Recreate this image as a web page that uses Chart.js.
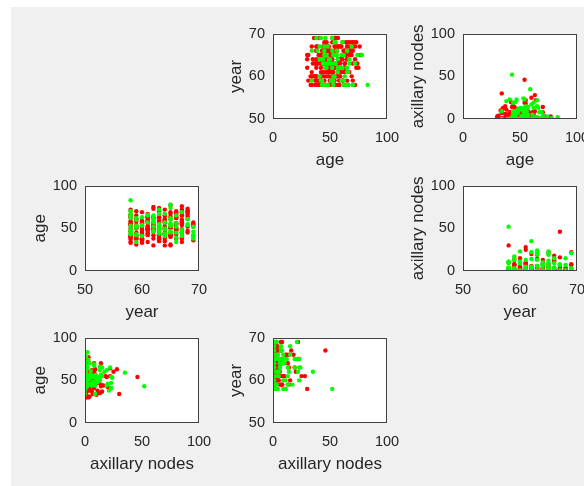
<!DOCTYPE html>
<html>
<head>
<meta charset="utf-8">
<title>Haberman scatter matrix</title>
<script src="https://cdn.jsdelivr.net/npm/chart.js@4.4.1/dist/chart.umd.min.js"></script>
<style>
  html, body { margin: 0; padding: 0; background: #fff; overflow: hidden; width: 584px; height: 486px; }
  #fig { position: absolute; left: 11px; top: 7px; width: 573px; height: 479px; background: #f0f0f0; }
  canvas { position: absolute; }
</style>
</head>
<body>
<div id="fig"></div>
<script>
// patient records: age at operation, operation year (19xx), positive axillary nodes, survival status
const age = [
  30,30,30,31,31,33,33,34,34,34, 34,34,34,34,35,35,36,36,37,37,
  37,37,37,37,38,38,38,38,38,38, 38,38,38,38,39,39,39,39,39,39,
  40,40,40,41,41,41,41,41,41,41, 41,41,41,42,42,42,42,42,42,42,
  42,42,43,43,43,43,43,43,43,43, 43,43,43,44,44,44,44,44,44,44,
  45,45,45,45,45,45,45,45,45,46, 46,46,46,46,46,46,47,47,47,47,
  47,47,47,47,47,47,47,48,48,48, 48,48,48,48,49,49,49,49,49,49,
  49,49,49,49,50,50,50,50,50,50, 50,50,50,50,50,50,51,51,51,51,
  51,51,52,52,52,52,52,52,52,52, 52,52,52,52,52,52,53,53,53,53,
  53,53,53,53,53,53,53,54,54,54, 54,54,54,54,54,54,54,54,54,54,
  55,55,55,55,55,55,55,55,55,55, 56,56,56,56,56,56,56,57,57,57,
  57,57,57,57,57,57,57,57,58,58, 58,58,58,58,58,59,59,59,59,59,
  59,59,59,60,60,60,60,60,60,61, 61,61,61,61,61,61,61,61,62,62,
  62,62,62,62,62,63,63,63,63,63, 63,63,63,64,64,64,64,64,65,65,
  65,65,65,65,65,65,65,65,66,66, 66,66,66,67,67,67,67,67,67,68,
  68,69,69,69,69,70,70,70,70,70, 70,70,71,72,72,72,72,73,73,74,
  74,75,76,77,78,83
];
const year = [
  64,62,65,59,65,58,60,59,66,58, 60,61,67,60,64,63,60,69,60,63,
  58,59,60,63,69,59,60,60,62,64, 66,66,60,67,66,63,67,58,59,63,
  58,58,65,60,64,67,58,59,59,64, 69,65,65,69,59,58,60,59,61,62,
  65,63,58,59,64,64,63,64,64,60, 63,65,66,64,58,63,61,63,61,67,
  65,66,67,60,67,59,64,68,67,58, 69,62,65,62,58,63,63,62,65,61,
  63,66,67,58,60,68,66,58,58,67, 61,62,64,66,63,64,61,62,66,60,
  62,63,61,67,63,64,59,61,61,63, 58,59,61,64,65,66,59,59,64,59,
  65,66,69,59,62,66,61,63,69,60, 60,62,62,64,65,68,58,65,59,60,
  63,65,58,60,60,61,63,60,65,65, 68,59,60,66,67,62,69,63,58,62,
  63,68,58,58,58,66,66,69,69,67, 65,66,60,66,66,67,60,61,62,64,
  64,69,61,62,63,64,64,67,59,60, 61,67,58,58,61,62,60,63,64,64,
  64,64,67,59,65,61,67,61,64,62, 65,68,59,59,64,65,68,59,59,58,
  65,62,66,66,58,60,61,62,63,63, 66,61,61,58,65,66,61,68,58,61,
  62,66,58,64,67,59,64,67,58,61, 58,58,68,64,63,66,66,61,65,67,
  68,67,60,65,66,58,58,66,67,68, 59,63,68,63,58,64,67,62,68,65,
  63,62,67,65,65,58
];
const nodes = [
  1,3,0,2,4,10,0,0,9,30, 1,10,7,0,13,0,1,0,0,0,
  0,6,15,0,21,2,0,0,3,1, 0,11,1,5,0,0,0,0,2,4,
  2,0,0,23,0,0,0,8,0,0, 8,0,0,1,0,0,1,2,4,20,
  0,1,52,2,0,0,14,2,3,0, 2,0,4,6,9,19,0,1,0,16,
  6,0,1,0,0,14,0,0,1,2, 3,5,20,0,3,0,23,0,0,0,
  6,0,0,3,4,4,12,11,11,7, 8,2,0,0,0,10,1,0,0,1,
  1,3,0,1,13,0,0,6,0,1, 1,2,0,0,4,1,13,3,7,1,
  0,1,3,2,3,4,0,4,0,4, 5,0,1,0,0,0,4,1,3,9,
  24,12,1,1,2,1,0,11,23,5, 7,7,3,0,46,0,7,19,1,0,
  6,15,1,0,1,18,0,3,22,1, 9,3,0,2,1,0,0,5,14,1,
  9,0,0,0,0,0,0,0,0,3, 1,0,0,3,2,35,0,0,1,4,
  0,7,3,17,0,1,2,25,0,5, 0,1,0,0,0,8,0,0,13,0,
  19,6,0,0,0,1,0,0,0,0, 0,9,28,0,22,0,0,0,0,2,
  22,15,0,0,0,2,0,1,0,13, 0,1,0,8,1,0,0,0,0,0,
  0,8,0,0,0,0,4,14,0,0, 8,0,2,0,0,0,3,0,0,3,
  0,1,0,3,1,2
];
const status = [
  1,1,1,1,1,1,1,2,2,1, 1,1,1,1,1,1,1,1,1,1,
  1,1,1,1,2,1,1,1,1,1, 1,1,1,1,2,1,1,1,1,1,
  1,1,1,2,2,2,1,1,1,1, 1,1,1,2,2,1,1,1,1,1,
  1,1,2,2,2,2,1,1,1,1, 1,1,1,2,2,2,1,1,1,1,
  2,2,2,1,1,1,1,1,1,2, 2,2,2,1,1,1,2,2,2,1,
  1,1,1,1,1,1,1,2,2,2, 1,1,1,1,2,2,1,1,1,1,
  1,1,1,1,2,2,1,1,1,1, 1,1,1,1,1,1,2,2,1,1,
  1,1,2,2,2,2,1,1,1,1, 1,1,1,1,1,1,2,2,2,2,
  2,2,1,1,1,1,1,2,2,2, 2,1,1,1,1,1,1,1,1,1,
  2,2,1,1,1,1,1,1,1,1, 2,2,1,1,1,1,1,2,2,2,
  1,1,1,1,1,1,1,1,1,1, 1,1,1,1,1,2,1,1,1,1,
  1,1,1,2,2,1,1,1,1,2, 2,2,1,1,1,1,1,1,2,2,
  2,1,1,1,1,2,1,1,1,1, 1,1,1,1,1,1,1,1,2,2,
  2,2,1,1,1,1,1,1,2,2, 1,1,1,2,2,1,1,1,1,1,
  1,2,1,1,1,2,2,1,1,1, 1,1,1,2,1,1,1,1,1,2,
  1,1,1,1,2,2
];

// axis ticks for each variable
const ageTicks = [0, 50, 100];
const yearTicks = [50, 60, 70];
const nodeTicks = [0, 50, 100];

const variables = [
  { values: age, title: 'age', ticks: ageTicks },
  { values: year, title: 'year', ticks: yearTicks },
  { values: nodes, title: 'axillary nodes', ticks: nodeTicks }
];

const colLeft = [85, 273, 463];
const rowTop = [34, 186, 338];
const boxW = 114, boxH = 85;
const padTop = 12, padRight = 24, xAxisH = 54;
const textColor = '#262626';
const fontFamily = "'Liberation Sans', Arial, sans-serif";

// white plot area and a closed box around it
const boxPlugin = {
  id: 'box',
  beforeDatasetsDraw(chart) {
    const a = chart.chartArea, ctx = chart.ctx;
    ctx.save();
    ctx.fillStyle = '#ffffff';
    ctx.fillRect(a.left, a.top, a.right - a.left, a.bottom - a.top);
    ctx.restore();
  },
  afterDatasetsDraw(chart) {
    const a = chart.chartArea, ctx = chart.ctx;
    ctx.save();
    ctx.strokeStyle = '#404040';
    ctx.lineWidth = 1;
    ctx.strokeRect(Math.round(a.left) + 0.5, Math.round(a.top) + 0.5,
                   Math.round(a.right - a.left) - 1, Math.round(a.bottom - a.top) - 1);
    ctx.restore();
  }
};

function axisOpts(v, isY, yWidth) {
  return {
    type: 'linear',
    min: v.ticks[0],
    max: v.ticks[v.ticks.length - 1],
    grid: { display: false, drawTicks: false },
    border: { display: false },
    ticks: {
      stepSize: v.ticks[1] - v.ticks[0],
      color: textColor,
      padding: isY ? 8 : 10,
      maxRotation: 0,
      font: { family: fontFamily, size: 14.5 }
    },
    title: {
      display: true,
      text: v.title,
      color: textColor,
      padding: isY ? { top: 3, bottom: 0 } : { top: 0, bottom: 2 },
      font: { family: fontFamily, size: 17 }
    },
    afterFit(scale) {
      if (isY) scale.width = yWidth;
      else scale.height = xAxisH;
    }
  };
}

function buildChart(canvas, xv, yv, yWidth) {
  const died = [], survived = [];
  for (let i = 0; i < status.length; i++) {
    const p = { x: xv.values[i], y: yv.values[i] };
    if (status[i] === 2) died.push(p); else survived.push(p);
  }
  return new Chart(canvas, {
    type: 'scatter',
    data: {
      datasets: [
        { data: survived, backgroundColor: '#ff0000', borderWidth: 0, pointRadius: 2.2, order: 2 },
        { data: died, backgroundColor: '#00ff00', borderWidth: 0, pointRadius: 2.2, order: 1 }
      ]
    },
    options: {
      responsive: false,
      animation: false,
      events: [],
      layout: { padding: { top: padTop, right: padRight, left: 0, bottom: 0 } },
      plugins: { legend: { display: false }, tooltip: { enabled: false } },
      scales: {
        x: axisOpts(xv, false),
        y: axisOpts(yv, true, yWidth)
      }
    },
    plugins: [boxPlugin]
  });
}

// panel in row r, column c plots variable r on x against variable c on y
function makePanel(row, col) {
  const xv = variables[row], yv = variables[col];
  const yWidth = yv.ticks[yv.ticks.length - 1] >= 100 ? 58 : 50;

  const canvas = document.createElement('canvas');
  canvas.width = yWidth + boxW + padRight;
  canvas.height = padTop + boxH + xAxisH;
  document.body.appendChild(canvas);

  let chart = buildChart(canvas, xv, yv, yWidth);
  const a = chart.chartArea;
  const diff = boxH - Math.round(a.bottom - a.top);
  if (diff !== 0) {
    // grow the canvas so the plot box keeps its height
    chart.destroy();
    canvas.width = yWidth + boxW + padRight;
    canvas.height = padTop + boxH + xAxisH + diff;
    canvas.style.width = canvas.width + 'px';
    canvas.style.height = canvas.height + 'px';
    chart = buildChart(canvas, xv, yv, yWidth);
  }
  canvas.style.left = Math.round(colLeft[col] - chart.chartArea.left) + 'px';
  canvas.style.top = Math.round(rowTop[row] - chart.chartArea.top) + 'px';
}

for (let r = 0; r < 3; r++) {
  for (let c = 0; c < 3; c++) {
    if (r !== c) makePanel(r, c);
  }
}
</script>
</body>
</html>
